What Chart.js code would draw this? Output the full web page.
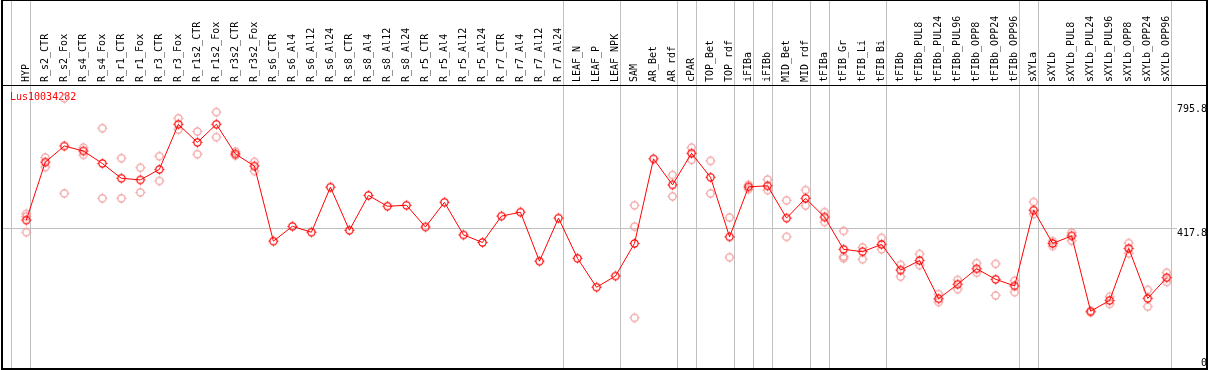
<!DOCTYPE html>
<html><head><meta charset="utf-8">
<script src="https://cdn.jsdelivr.net/npm/chart.js@4"></script>
<style>html,body{margin:0;padding:0;background:#fff;}#wrap{width:1209px;height:370px;}</style>
</head><body><div id="wrap"><canvas id="c" width="1209" height="370"></canvas></div>
<script>
const categories = ['HYP','R_s2_CTR','R_s2_Fox','R_s4_CTR','R_s4_Fox','R_r1_CTR','R_r1_Fox','R_r3_CTR','R_r3_Fox','R_r1s2_CTR','R_r1s2_Fox','R_r3s2_CTR','R_r3s2_Fox','R_s6_CTR','R_s6_Al4','R_s6_Al12','R_s6_Al24','R_s8_CTR','R_s8_Al4','R_s8_Al12','R_s8_Al24','R_r5_CTR','R_r5_Al4','R_r5_Al12','R_r5_Al24','R_r7_CTR','R_r7_Al4','R_r7_Al12','R_r7_Al24','LEAF_N','LEAF_P','LEAF_NPK','SAM','AR_Bet','AR_rdf','cPAR','TOP_Bet','TOP_rdf','iFIBa','iFIBb','MID_Bet','MID_rdf','tFIBa','tFIB_Gr','tFIB_Li','tFIB_Bi','tFIBb','tFIBb_PUL8','tFIBb_PUL24','tFIBb_PUL96','tFIBb_OPP8','tFIBb_OPP24','tFIBb_OPP96','sXYLa','sXYLb','sXYLb_PUL8','sXYLb_PUL24','sXYLb_PUL96','sXYLb_OPP8','sXYLb_OPP24','sXYLb_OPP96'];
const meanValues = [441,617,666,651,613,568,563,595,732,677,732,642,605,377,422,404,541,410,516,483,486,420,495,396,373,453,465,316,447,325,237,271,370,627,548,644,571,390,542,545,447,507,450,352,345,367,289,318,202,246,293,261,241,471,370,393,164,197,355,203,266];
const rep1 = [460,631,811,661,720,629,600,635,750,710,769,649,618,null,null,null,null,null,null,null,null,null,null,null,null,null,null,null,null,null,null,null,486,null,578,661,621,449,548,564,501,532,465,408,358,387,305,338,216,259,310,308,257,496,377,403,160,208,371,229,281];
const rep2 = [404,602,522,639,507,507,525,560,716,641,693,637,590,null,null,null,null,null,null,null,null,null,null,null,null,null,null,null,null,null,null,null,144,null,513,624,522,328,535,532,390,485,435,325,322,352,269,304,192,231,281,212,222,459,362,378,null,186,340,178,253];
const rep3 = [452,null,null,null,null,null,null,null,null,null,null,null,null,null,null,null,null,null,null,null,null,null,null,null,null,null,null,null,null,null,null,null,421,null,null,null,null,null,null,null,null,null,null,330,null,null,null,null,null,null,null,null,null,null,null,null,null,null,null,null,null];
const yTicks = [0, 417.8, 795.8];
const refLine = 417.8;
const groupEnds = [-1,0,28,31,34,35,37,38,39,41,42,45,52,53,60];
const title = 'Lus10034282';

const FONT = '10px "DejaVu Sans Mono"';
function marker(color){
  const c=document.createElement('canvas'); c.width=13; c.height=13;
  const g=c.getContext('2d');
  g.strokeStyle=color; g.lineWidth=1.2;
  g.beginPath(); g.arc(6.5,6.5,3.6,0,Math.PI*2); g.stroke();
  g.lineWidth=1;
  g.beginPath();
  g.moveTo(6.5,1.5); g.lineTo(6.5,2.9);
  g.moveTo(6.5,10.1); g.lineTo(6.5,11.5);
  g.moveTo(1.5,6.5); g.lineTo(2.9,6.5);
  g.moveTo(10.1,6.5); g.lineTo(11.5,6.5);
  g.stroke();
  return c;
}
const mainMarker = marker('#ff0000');
const repMarker = marker('#f29a9a');
const toXY = arr => arr.map((v,i)=>({x:i,y:v})).filter(p=>p.y!==null);

const framePlugin = {
  id:'frame',
  beforeDatasetsDraw(chart){
    const {ctx, chartArea:a, scales:{x,y}} = chart;
    ctx.save();
    ctx.fillStyle='#c0c0c0';
    groupEnds.forEach(g=>{
      const px = Math.round(x.getPixelForValue(g)+4.2);
      ctx.fillRect(px,0,1,chart.height);
    });
    const py = Math.round(y.getPixelForValue(refLine));
    ctx.fillRect(a.left, py, 1177-a.left, 1);
    ctx.fillStyle='#ff0000';
    ctx.font=FONT; ctx.textAlign='left'; ctx.textBaseline='middle';
    ctx.fillText(title, a.left+9, a.top+12);
    ctx.restore();
  },
  afterDraw(chart){
    const {ctx, chartArea:a, scales:{y}} = chart;
    ctx.save();
    ctx.fillStyle='#000';
    ctx.font=FONT; ctx.textAlign='right'; ctx.textBaseline='top';
    yTicks.forEach(t=>{
      const py = Math.min(y.getPixelForValue(t)+1, a.bottom-11);
      ctx.fillText(String(t), a.right, py);
    });
    ctx.fillRect(a.left,0,a.right-a.left+1,1);
    ctx.fillRect(a.left,a.top,a.right-a.left+1,1);
    ctx.fillRect(a.left,a.bottom-1,a.right-a.left+1,2);
    ctx.fillRect(a.left,0,2,a.bottom+1);
    ctx.fillRect(a.right-1,0,2,a.bottom+1);
    ctx.restore();
  }
};

const pt = {pointRadius:0.5, pointBorderWidth:0, pointHoverRadius:0.5, pointHitRadius:0};
new Chart(document.getElementById('c'), {
  type:'line',
  data:{datasets:[
    Object.assign({data:toXY(meanValues), borderColor:'#ff0000', borderWidth:1, pointStyle:mainMarker, order:0, tension:0}, pt),
    Object.assign({data:toXY(rep1), showLine:false, borderWidth:0, pointStyle:repMarker, order:1}, pt),
    Object.assign({data:toXY(rep2), showLine:false, borderWidth:0, pointStyle:repMarker, order:1}, pt),
    Object.assign({data:toXY(rep3), showLine:false, borderWidth:0, pointStyle:repMarker, order:1}, pt)
  ]},
  options:{
    responsive:false, animation:false, devicePixelRatio:1,
    events:[],
    layout:{padding:{left:1,right:2,top:0,bottom:1}},
    plugins:{legend:{display:false}, tooltip:{enabled:false}},
    scales:{
      x:{type:'linear', position:'top', min:-1.331, max:62.12, bounds:'data',
        afterBuildTicks:s=>{ s.ticks = categories.map((_,i)=>({value:i})); },
        afterFit:s=>{ s.height = 85; s.paddingLeft=0; s.paddingRight=0; s.paddingTop=0; s.paddingBottom=0; },
        ticks:{autoSkip:false, minRotation:90, maxRotation:90, padding:3, labelOffset:12, color:'#000',
          font:{family:'DejaVu Sans Mono', size:10}, callback:v=>categories[v]},
        grid:{display:false, drawTicks:false}, border:{display:false}},
      y:{type:'linear', display:false, min:-11.5, max:851.4}
    }
  },
  plugins:[framePlugin]
});
</script>
</body></html>
